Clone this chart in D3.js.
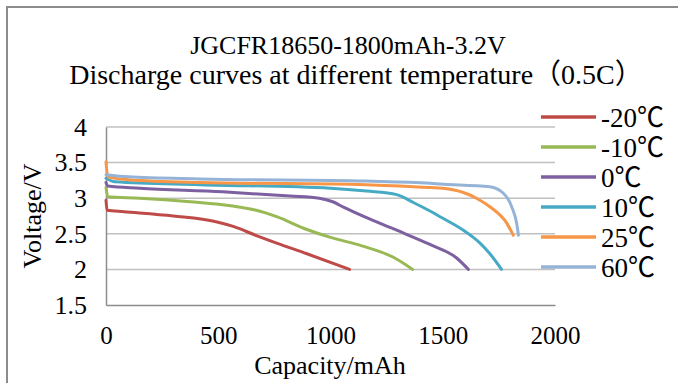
<!DOCTYPE html>
<html lang="en">
<head>
    <meta charset="UTF-8">
    <title>Discharge curves</title>
    <script src="https://cdn.jsdelivr.net/npm/d3@7/dist/d3.min.js"></script>
    <style>
        body{
            margin:0;
            background:#fff;
        }
        text{
            font-family:"Liberation Serif","Times New Roman","Noto Sans CJK SC",serif;
            fill:#000;
        }
        .grid line{
            stroke:#c0c0c0;
            stroke-width:1.5;
        }
        .curve{
            fill:none;
            stroke-width:3;
            stroke-linecap:round;
            stroke-linejoin:round;
        }
    </style>
</head>
<body>
<div class="app"></div>
<script>
    // 数据
    var names = ['-20℃','-10℃','0℃','10℃','25℃','60℃'];
    var colors = ['#be4b48','#98b954','#7d60a0','#46aac5','#f79646','#95b3d7'];

    var capM20 = [0, 5, 80, 300, 490, 570, 670, 760, 895, 1085];
    var voltM20 = [2.97, 2.83, 2.81, 2.75, 2.67, 2.60, 2.475, 2.37, 2.22, 2.00];

    var capM10 = [0, 8, 150, 375, 565, 670, 760, 895, 1000, 1140, 1280, 1366];
    var voltM10 = [3.15, 3.02, 3.00, 2.95, 2.89, 2.83, 2.74, 2.56, 2.45, 2.33, 2.17, 2.00];

    var cap0 = [0, 8, 150, 520, 820, 950, 1010, 1060, 1150, 1295, 1443, 1562, 1614];
    var volt0 = [3.22, 3.17, 3.14, 3.09, 3.03, 3.00, 2.95, 2.87, 2.74, 2.55, 2.35, 2.16, 2.00];

    var cap10 = [0, 40, 420, 1000, 1160, 1295, 1369, 1443, 1488, 1592, 1636, 1666, 1710, 1762];
    var volt10 = [3.28, 3.23, 3.19, 3.14, 3.10, 3.05, 2.94, 2.82, 2.74, 2.55, 2.45, 2.37, 2.22, 2.00];

    var cap25 = [0, 8, 100, 420, 1160, 1443, 1500, 1592, 1650, 1710, 1785, 1814];
    var volt25 = [3.51, 3.30, 3.26, 3.22, 3.19, 3.15, 3.14, 3.08, 3.00, 2.88, 2.65, 2.48];

    var cap60 = [0, 100, 420, 1160, 1443, 1488, 1710, 1770, 1807, 1829, 1837];
    var volt60 = [3.33, 3.30, 3.27, 3.24, 3.21, 3.20, 3.16, 3.07, 2.88, 2.65, 2.48];

    var xTicks = [0, 500, 1000, 1500, 2000];
    var yTicks = [1.5, 2, 2.5, 3, 3.5, 4];

    var caps = [capM20, capM10, cap0, cap10, cap25, cap60];
    var volts = [voltM20, voltM10, volt0, volt10, volt25, volt60];

    var width = 678,
        height = 383;

    var svg = d3.select('.app')
                .append('svg')
                .attr('width',width)
                .attr('height',height);

    // 外框
    svg.append('path')
        .attr('d','M7,' + height + 'V7H' + width)
        .attr('fill','none')
        .attr('stroke','#8c8c8c')
        .attr('stroke-width',2);

    // 比例尺
    var x = d3.scaleLinear().domain([0,2000]).range([106,555]);
    var y = d3.scaleLinear().domain([1.5,4]).range([305,127]);

    // 网格线
    svg.append('g')
        .attr('class','grid')
        .selectAll('line')
        .data(yTicks.slice(1))
        .enter().append('line')
        .attr('x1',x(0))
        .attr('x2',x(2000))
        .attr('y1',function(d){return y(d);})
        .attr('y2',function(d){return y(d);});

    // 坐标轴
    var xAxis = svg.append('g')
        .attr('transform','translate(0,' + y(1.5) + ')')
        .call(d3.axisBottom(x).tickValues(xTicks).tickSize(0).tickPadding(21).tickFormat(d3.format('d')));
    var yAxis = svg.append('g')
        .attr('transform','translate(' + x(0) + ',0)')
        .call(d3.axisLeft(y).tickValues(yTicks).tickSize(0).tickPadding(19).tickFormat(d3.format('')));

    [xAxis, yAxis].forEach(function(a){
        a.select('.domain').attr('stroke','#8c8c8c').attr('stroke-width',1.5);
        a.selectAll('text').attr('fill','#000');
    });
    xAxis.selectAll('text').style('font-size','25px');
    yAxis.selectAll('text').style('font-size','26px');

    // 曲线
    var line = d3.line()
        .x(function(d){return x(d[0]);})
        .y(function(d){return y(d[1]);})
        .curve(d3.curveMonotoneX);

    svg.append('g')
        .selectAll('path')
        .data(caps)
        .enter().append('path')
        .attr('class','curve')
        .attr('stroke',function(d,i){return colors[i];})
        .attr('d',function(d,i){
            return line(d.map(function(c,j){return [c, volts[i][j]];}));
        });

    // 图例
    var legend = svg.append('g')
        .selectAll('g')
        .data(names)
        .enter().append('g')
        .attr('transform',function(d,i){return 'translate(541,' + (117 + i*30) + ')';});

    legend.append('line')
        .attr('x1',0)
        .attr('x2',55)
        .attr('stroke',function(d,i){return colors[i];})
        .attr('stroke-width',3.5);

    legend.append('text')
        .attr('x',60)
        .attr('dy','0.36em')
        .style('font-size','27px')
        .text(function(d){return d;});

    // 标题
    svg.append('text')
        .attr('x',348)
        .attr('y',54)
        .attr('text-anchor','middle')
        .style('font-size','26px')
        .text('JGCFR18650-1800mAh-3.2V');
    svg.append('text')
        .attr('x',356)
        .attr('y',84)
        .attr('text-anchor','middle')
        .style('font-size','28px')
        .text('Discharge curves at different temperature（0.5C）');

    // 轴标题
    svg.append('text')
        .attr('x',330)
        .attr('y',374)
        .attr('text-anchor','middle')
        .style('font-size','26px')
        .text('Capacity/mAh');
    svg.append('text')
        .attr('transform','translate(41,216) rotate(-90)')
        .attr('text-anchor','middle')
        .style('font-size','26px')
        .text('Voltage/V');
</script>
</body>
</html>
